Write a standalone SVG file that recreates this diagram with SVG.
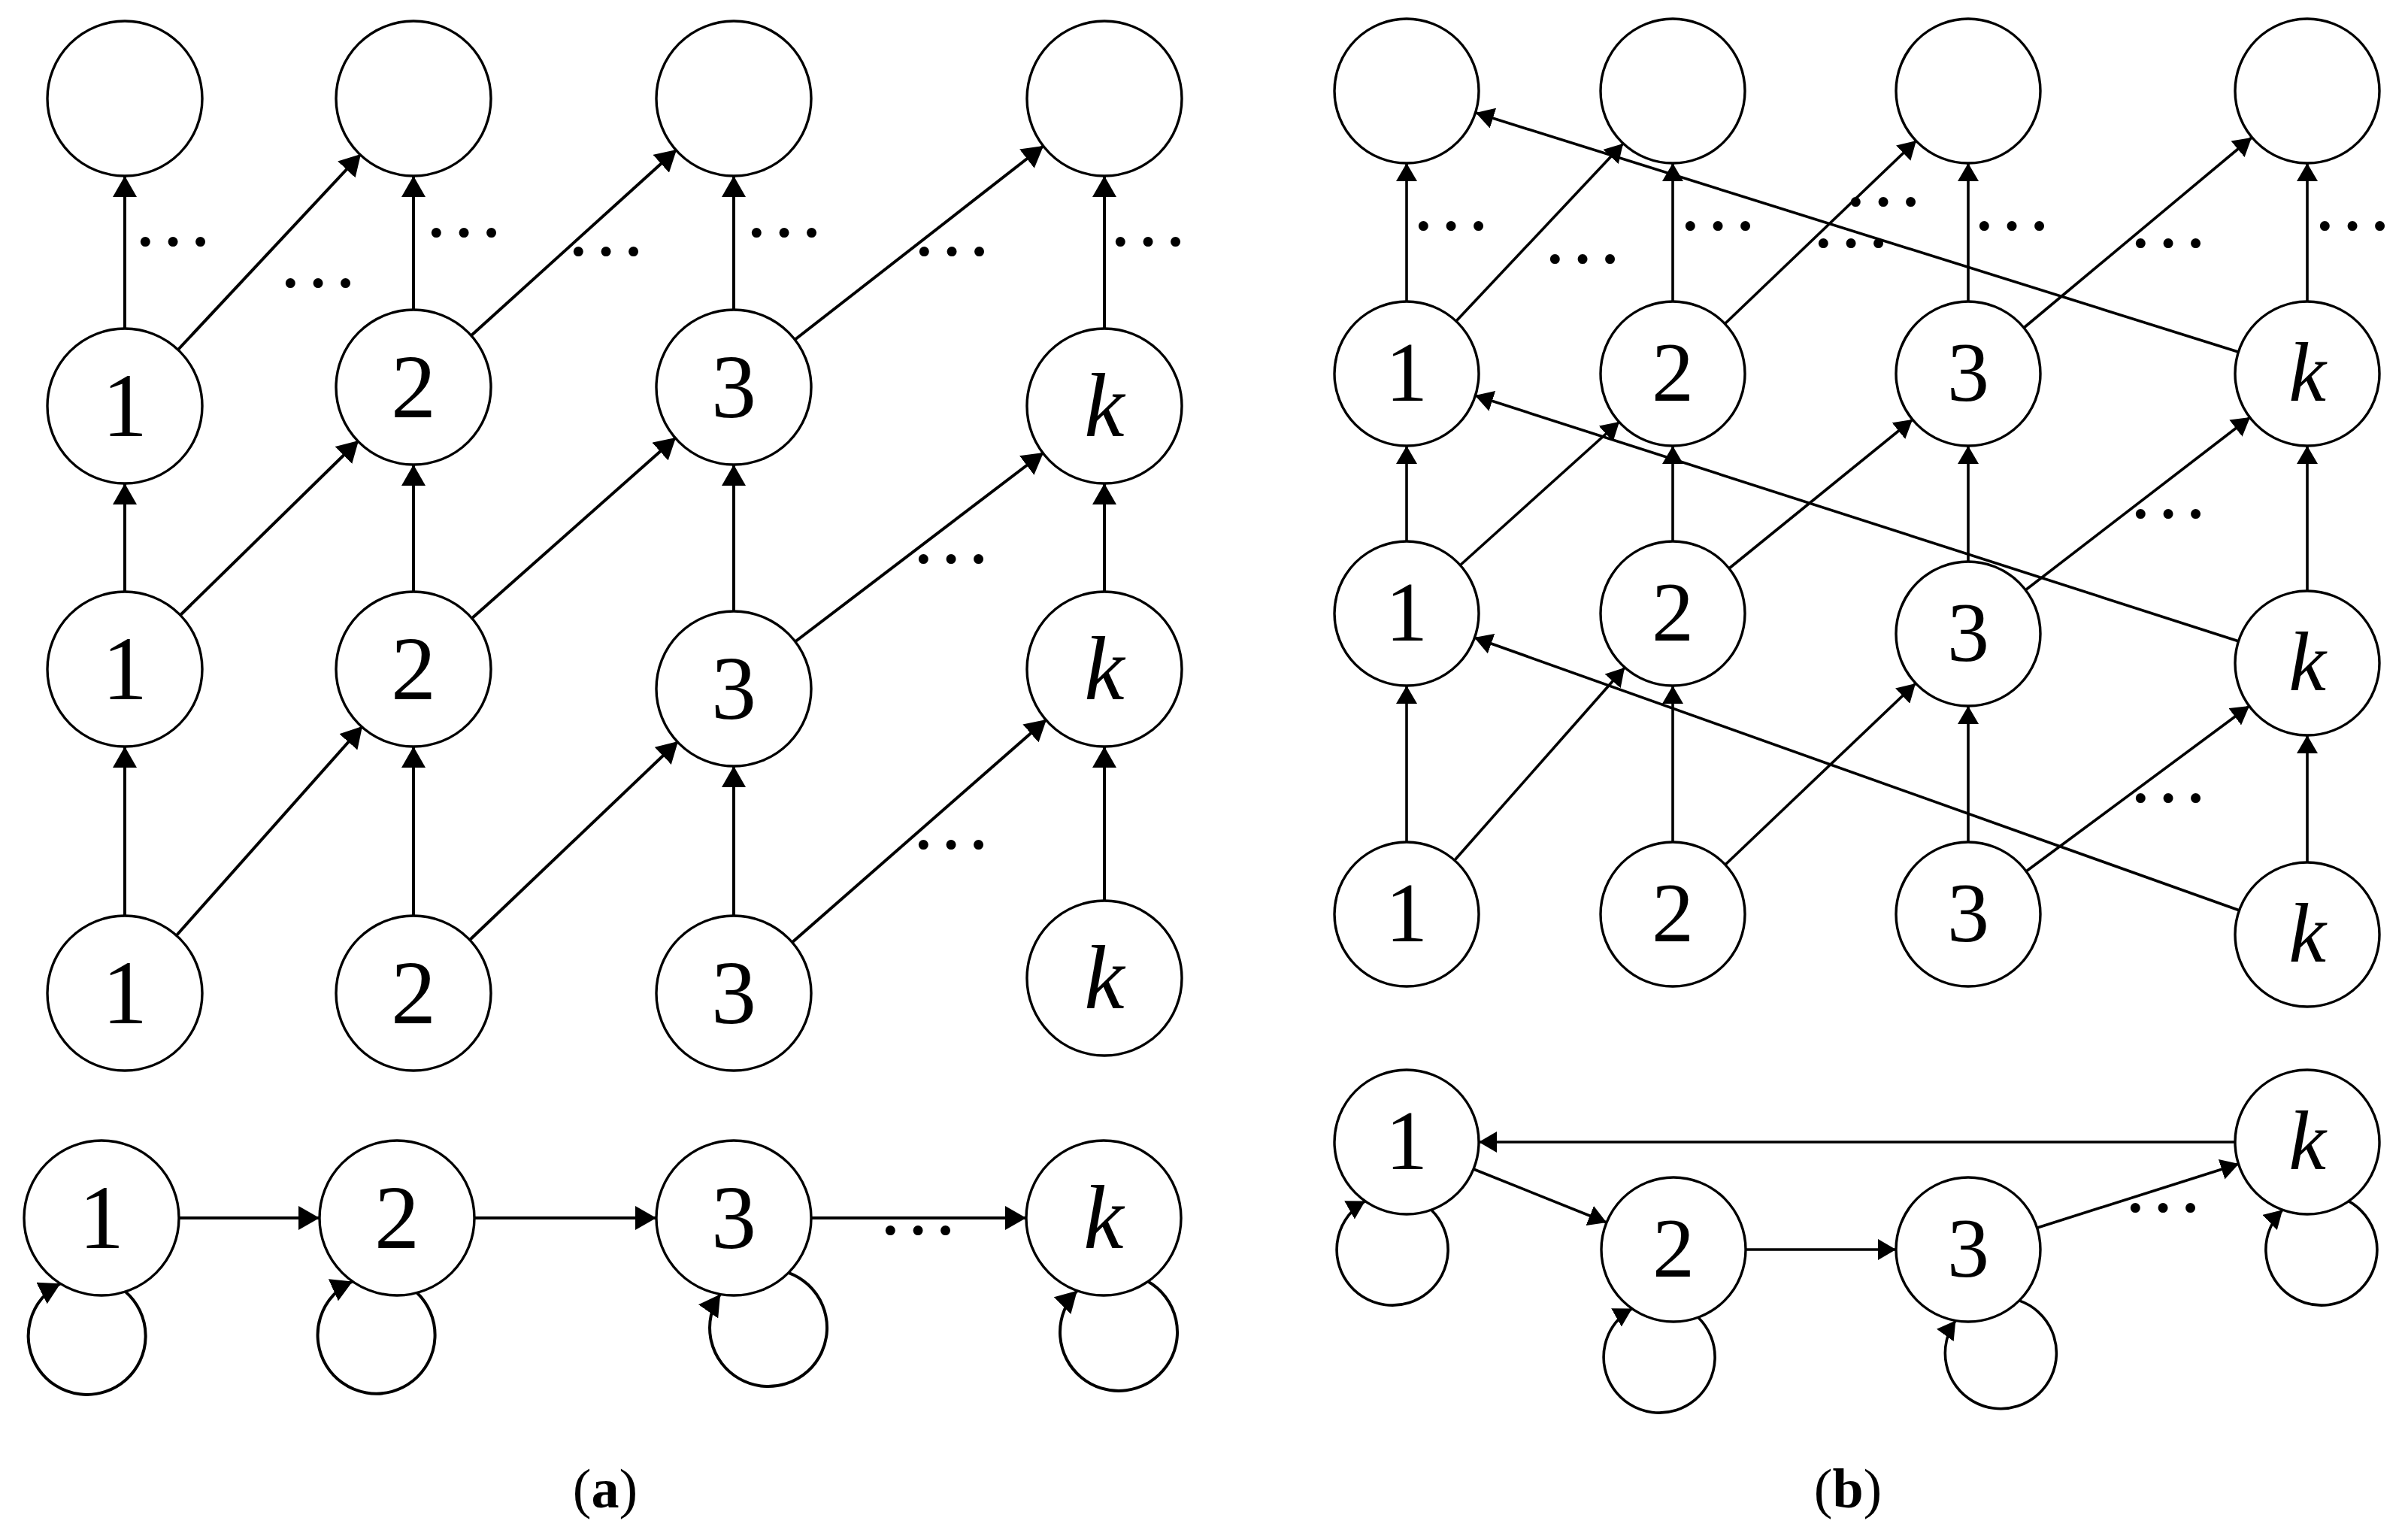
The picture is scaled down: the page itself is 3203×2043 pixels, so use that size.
<svg xmlns="http://www.w3.org/2000/svg" width="3203" height="2043" viewBox="0 0 3203 2043">
<style>
.n{fill:none;stroke:#000;stroke-width:3.4}
.ea{fill:none;stroke:#000;stroke-width:4;marker-end:url(#ha)}
.eb{fill:none;stroke:#000;stroke-width:3.6;marker-end:url(#hb)}
.la{font-family:"Liberation Serif","DejaVu Serif",serif;font-size:120px;text-anchor:middle;fill:#000}
.lb{font-family:"Liberation Serif","DejaVu Serif",serif;font-size:112px;text-anchor:middle;fill:#000}
.k{font-style:italic}
.d{font-family:"Liberation Serif","DejaVu Serif",serif;font-size:110px;text-anchor:middle;fill:#000}
.cap{font-family:"Liberation Serif","DejaVu Serif",serif;font-size:74px;text-anchor:middle;fill:#000}
</style>
<defs>
<marker id="ha" markerUnits="userSpaceOnUse" markerWidth="28" markerHeight="32" refX="28" refY="16" orient="auto"><path d="M0,0 L28,16 L0,32 Z" fill="#000"/></marker>
<marker id="hb" markerUnits="userSpaceOnUse" markerWidth="24" markerHeight="28" refX="24" refY="14" orient="auto"><path d="M0,0 L24,14 L0,28 Z" fill="#000"/></marker>
</defs>
<rect width="3203" height="2043" fill="#fff"/>

<g id="connectors">
<!-- panel (a) verticals -->
<line class="ea" x1="166" y1="1218" x2="166" y2="993"/>
<line class="ea" x1="166" y1="787" x2="166" y2="643"/>
<line class="ea" x1="166" y1="437" x2="166" y2="234"/>
<line class="ea" x1="550" y1="1218" x2="550" y2="993"/>
<line class="ea" x1="550" y1="787" x2="550" y2="618"/>
<line class="ea" x1="550" y1="412" x2="550" y2="234"/>
<line class="ea" x1="976" y1="1218" x2="976" y2="1019"/>
<line class="ea" x1="976" y1="813" x2="976" y2="618"/>
<line class="ea" x1="976" y1="412" x2="976" y2="234"/>
<line class="ea" x1="1469" y1="1198" x2="1469" y2="993"/>
<line class="ea" x1="1469" y1="787" x2="1469" y2="643"/>
<line class="ea" x1="1469" y1="437" x2="1469" y2="234"/>
<!-- panel (a) diagonals -->
<line class="ea" x1="234" y1="1245" x2="482" y2="966"/>
<line class="ea" x1="624" y1="1251" x2="902" y2="986"/>
<line class="ea" x1="1053" y1="1254" x2="1392" y2="957"/>
<line class="ea" x1="239" y1="819" x2="477" y2="586"/>
<line class="ea" x1="627" y1="823" x2="899" y2="582"/>
<line class="ea" x1="1057" y1="854" x2="1388" y2="602"/>
<line class="ea" x1="236" y1="466" x2="480" y2="205"/>
<line class="ea" x1="626" y1="447" x2="900" y2="199"/>
<line class="ea" x1="1057" y1="452" x2="1388" y2="194"/>
<!-- panel (a) chain -->
<line class="ea" x1="238" y1="1620" x2="425" y2="1620"/>
<line class="ea" x1="631" y1="1620" x2="873" y2="1620"/>
<line class="ea" x1="1079" y1="1620" x2="1365" y2="1620"/>
<!-- panel (a) self-loops -->
<path class="ea" d="M166.8,1718 A78,78 0 1 1 80.4,1707.3"/>
<path class="ea" d="M554.7,1719.5 A78,78 0 1 1 468.9,1704.4"/>
<path class="ea" d="M1048.8,1692.8 A78,78 0 1 1 958.1,1721.4"/>
<path class="ea" d="M1527.1,1704.4 A78,78 0 1 1 1432.8,1716.8"/>

<!-- panel (b) verticals -->
<line class="eb" x1="1871" y1="1120" x2="1871" y2="912"/>
<line class="eb" x1="1871" y1="720" x2="1871" y2="593"/>
<line class="eb" x1="1871" y1="401" x2="1871" y2="217"/>
<line class="eb" x1="2225" y1="1120" x2="2225" y2="912"/>
<line class="eb" x1="2225" y1="720" x2="2225" y2="593"/>
<line class="eb" x1="2225" y1="401" x2="2225" y2="217"/>
<line class="eb" x1="2618" y1="1120" x2="2618" y2="939"/>
<line class="eb" x1="2618" y1="747" x2="2618" y2="593"/>
<line class="eb" x1="2618" y1="401" x2="2618" y2="217"/>
<line class="eb" x1="3069" y1="1147" x2="3069" y2="978"/>
<line class="eb" x1="3069" y1="786" x2="3069" y2="593"/>
<line class="eb" x1="3069" y1="401" x2="3069" y2="217"/>
<!-- panel (b) diagonals -->
<line class="eb" x1="1935" y1="1144" x2="2161" y2="888"/>
<line class="eb" x1="2295" y1="1150" x2="2548" y2="909"/>
<line class="eb" x1="2695" y1="1159" x2="2992" y2="939"/>
<line class="eb" x1="1942" y1="752" x2="2154" y2="561"/>
<line class="eb" x1="2300" y1="756" x2="2544" y2="558"/>
<line class="eb" x1="2694" y1="785" x2="2993" y2="555"/>
<line class="eb" x1="1937" y1="427" x2="2159" y2="191"/>
<line class="eb" x1="2294" y1="431" x2="2549" y2="187"/>
<line class="eb" x1="2692" y1="436" x2="2995" y2="183"/>
<!-- panel (b) long back edges -->
<line class="eb" x1="2977" y1="468" x2="1963" y2="150"/>
<line class="eb" x1="2978" y1="853" x2="1962" y2="526"/>
<line class="eb" x1="2979" y1="1211" x2="1961" y2="848"/>
<!-- panel (b) cycle -->
<line class="eb" x1="2973" y1="1519" x2="1967" y2="1519"/>
<line class="eb" x1="1960" y1="1555" x2="2137" y2="1626"/>
<line class="eb" x1="2322" y1="1662" x2="2522" y2="1662"/>
<line class="eb" x1="2710" y1="1633" x2="2978" y2="1548"/>
<!-- panel (b) self-loops -->
<path class="eb" d="M1903.8,1609.2 A74,74 0 1 1 1815.9,1597.6"/>
<path class="eb" d="M2258.8,1752.2 A74,74 0 1 1 2170.9,1740.6"/>
<path class="eb" d="M2685.9,1729.9 A74,74 0 1 1 2601.3,1756.5"/>
<path class="eb" d="M3124.1,1597.6 A74,74 0 1 1 3036.2,1609.2"/>
</g>

<g id="dots">
<text class="d" x="230" y="358">···</text>
<text class="d" x="423" y="413">···</text>
<text class="d" x="617" y="346">···</text>
<text class="d" x="806" y="371">···</text>
<text class="d" x="1043" y="346">···</text>
<text class="d" x="1266" y="371">···</text>
<text class="d" x="1527" y="358">···</text>
<text class="d" x="1265" y="780">···</text>
<text class="d" x="1265" y="1160">···</text>
<text class="d" x="1221" y="1673">···</text>
<text class="d" x="1930" y="337">···</text>
<text class="d" x="2285" y="337">···</text>
<text class="d" x="2105" y="381">···</text>
<text class="d" x="2505" y="305">···</text>
<text class="d" x="2462" y="360">···</text>
<text class="d" x="2676" y="337">···</text>
<text class="d" x="2884" y="360">···</text>
<text class="d" x="3129" y="337">···</text>
<text class="d" x="2884" y="720">···</text>
<text class="d" x="2884" y="1098">···</text>
<text class="d" x="2877" y="1643">···</text>
</g>

<!-- panel (a) nodes -->
<g id="a-T1"><circle class="n" cx="166" cy="131" r="103"/></g>
<g id="a-T2"><circle class="n" cx="550" cy="131" r="103"/></g>
<g id="a-T3"><circle class="n" cx="976" cy="131" r="103"/></g>
<g id="a-T4"><circle class="n" cx="1469" cy="131" r="103"/></g>
<g id="a-A1"><circle class="n" cx="166" cy="540" r="103"/><text class="la" x="166" y="580">1</text></g>
<g id="a-A2"><circle class="n" cx="550" cy="515" r="103"/><text class="la" x="550" y="555">2</text></g>
<g id="a-A3"><circle class="n" cx="976" cy="515" r="103"/><text class="la" x="976" y="555">3</text></g>
<g id="a-A4"><circle class="n" cx="1469" cy="540" r="103"/><text class="la k" x="1469" y="580">k</text></g>
<g id="a-B1"><circle class="n" cx="166" cy="890" r="103"/><text class="la" x="166" y="930">1</text></g>
<g id="a-B2"><circle class="n" cx="550" cy="890" r="103"/><text class="la" x="550" y="930">2</text></g>
<g id="a-B3"><circle class="n" cx="976" cy="916" r="103"/><text class="la" x="976" y="956">3</text></g>
<g id="a-B4"><circle class="n" cx="1469" cy="890" r="103"/><text class="la k" x="1469" y="930">k</text></g>
<g id="a-C1"><circle class="n" cx="166" cy="1321" r="103"/><text class="la" x="166" y="1361">1</text></g>
<g id="a-C2"><circle class="n" cx="550" cy="1321" r="103"/><text class="la" x="550" y="1361">2</text></g>
<g id="a-C3"><circle class="n" cx="976" cy="1321" r="103"/><text class="la" x="976" y="1361">3</text></g>
<g id="a-C4"><circle class="n" cx="1469" cy="1301" r="103"/><text class="la k" x="1469" y="1341">k</text></g>
<g id="a-D1"><circle class="n" cx="135" cy="1620" r="103"/><text class="la" x="135" y="1660">1</text></g>
<g id="a-D2"><circle class="n" cx="528" cy="1620" r="103"/><text class="la" x="528" y="1660">2</text></g>
<g id="a-D3"><circle class="n" cx="976" cy="1620" r="103"/><text class="la" x="976" y="1660">3</text></g>
<g id="a-D4"><circle class="n" cx="1468" cy="1620" r="103"/><text class="la k" x="1468" y="1660">k</text></g>

<!-- panel (b) nodes -->
<g id="b-T1"><circle class="n" cx="1871" cy="121" r="96"/></g>
<g id="b-T2"><circle class="n" cx="2225" cy="121" r="96"/></g>
<g id="b-T3"><circle class="n" cx="2618" cy="121" r="96"/></g>
<g id="b-T4"><circle class="n" cx="3069" cy="121" r="96"/></g>
<g id="b-A1"><circle class="n" cx="1871" cy="497" r="96"/><text class="lb" x="1871" y="533">1</text></g>
<g id="b-A2"><circle class="n" cx="2225" cy="497" r="96"/><text class="lb" x="2225" y="533">2</text></g>
<g id="b-A3"><circle class="n" cx="2618" cy="497" r="96"/><text class="lb" x="2618" y="533">3</text></g>
<g id="b-A4"><circle class="n" cx="3069" cy="497" r="96"/><text class="lb k" x="3069" y="533">k</text></g>
<g id="b-B1"><circle class="n" cx="1871" cy="816" r="96"/><text class="lb" x="1871" y="852">1</text></g>
<g id="b-B2"><circle class="n" cx="2225" cy="816" r="96"/><text class="lb" x="2225" y="852">2</text></g>
<g id="b-B3"><circle class="n" cx="2618" cy="843" r="96"/><text class="lb" x="2618" y="879">3</text></g>
<g id="b-B4"><circle class="n" cx="3069" cy="882" r="96"/><text class="lb k" x="3069" y="918">k</text></g>
<g id="b-C1"><circle class="n" cx="1871" cy="1216" r="96"/><text class="lb" x="1871" y="1252">1</text></g>
<g id="b-C2"><circle class="n" cx="2225" cy="1216" r="96"/><text class="lb" x="2225" y="1252">2</text></g>
<g id="b-C3"><circle class="n" cx="2618" cy="1216" r="96"/><text class="lb" x="2618" y="1252">3</text></g>
<g id="b-C4"><circle class="n" cx="3069" cy="1243" r="96"/><text class="lb k" x="3069" y="1279">k</text></g>
<g id="b-D1"><circle class="n" cx="1871" cy="1519" r="96"/><text class="lb" x="1871" y="1555">1</text></g>
<g id="b-D2"><circle class="n" cx="2226" cy="1662" r="96"/><text class="lb" x="2226" y="1698">2</text></g>
<g id="b-D3"><circle class="n" cx="2618" cy="1662" r="96"/><text class="lb" x="2618" y="1698">3</text></g>
<g id="b-D4"><circle class="n" cx="3069" cy="1519" r="96"/><text class="lb k" x="3069" y="1555">k</text></g>

<g id="captions">
<text class="cap" x="805" y="2005">(<tspan font-weight="bold">a</tspan>)</text>
<text class="cap" x="2458" y="2005">(<tspan font-weight="bold">b</tspan>)</text>
</g>
</svg>
